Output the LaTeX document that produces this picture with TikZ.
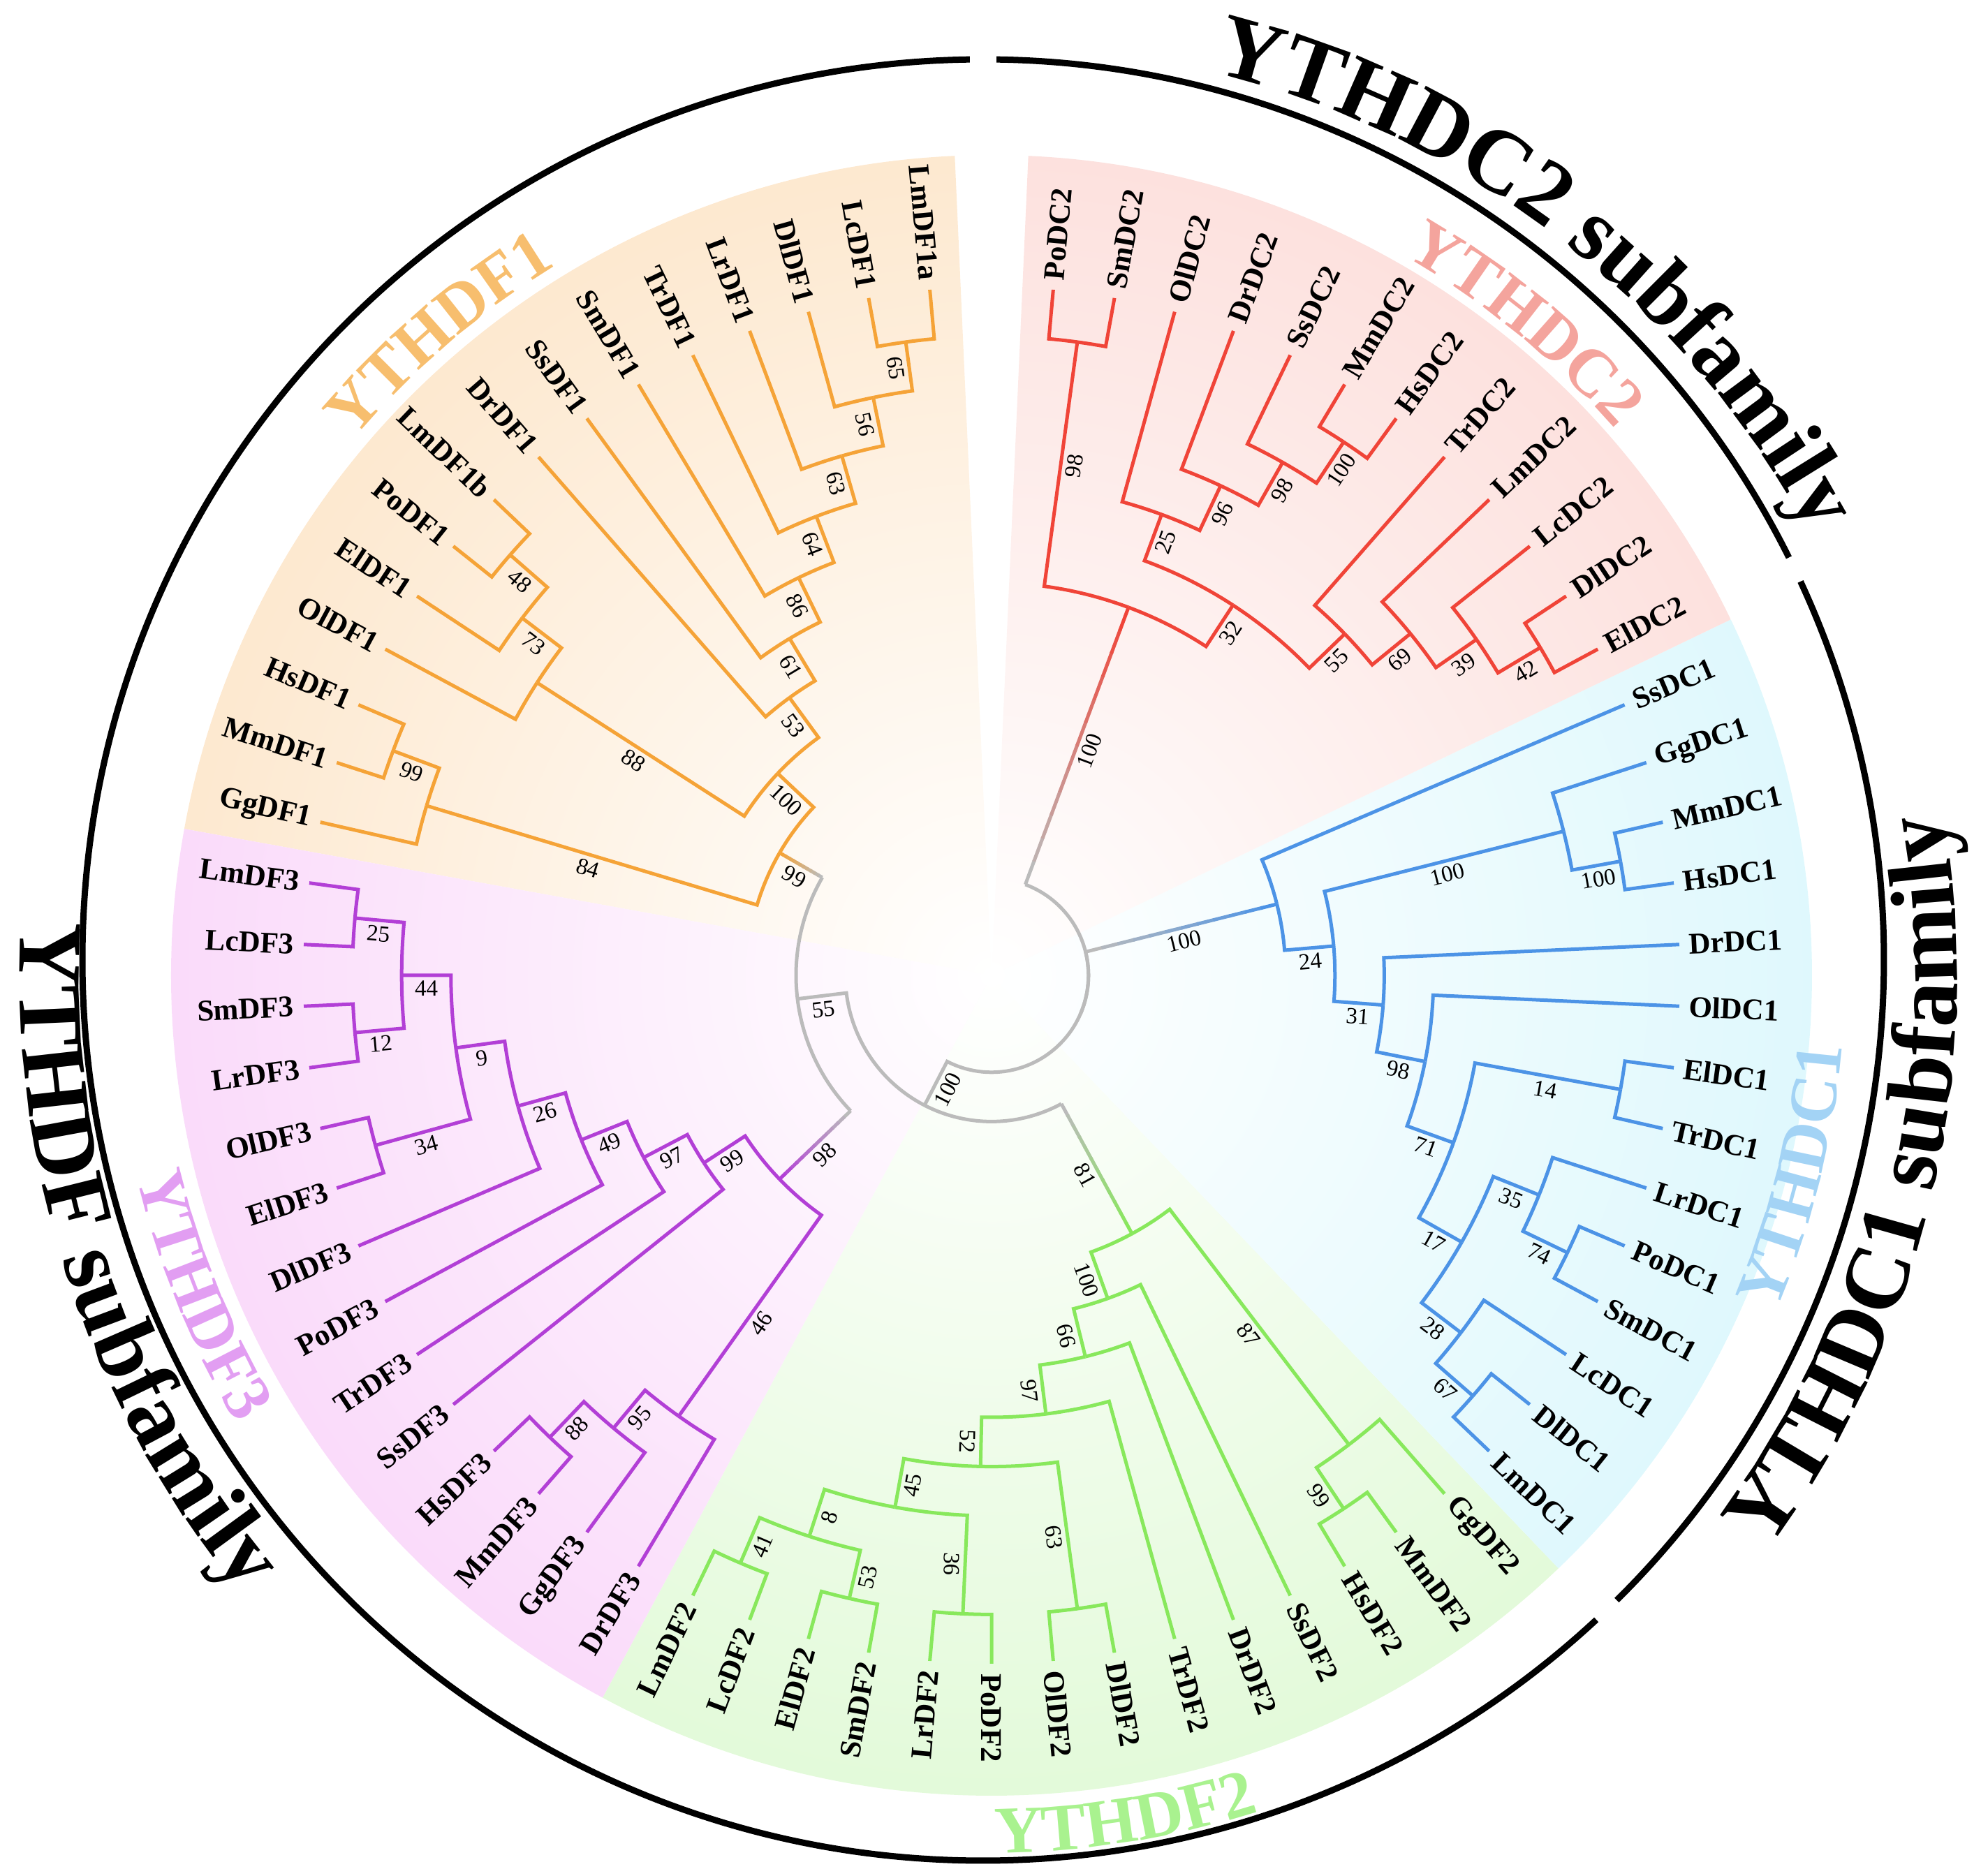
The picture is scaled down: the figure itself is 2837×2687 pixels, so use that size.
\documentclass[tikz,border=0pt]{standalone}
\usepackage{fontspec}
\setmainfont{Liberation Serif}
\usetikzlibrary{decorations.text}

\definecolor{df1col}{HTML}{F5A337}
\definecolor{df3col}{HTML}{B23FD6}
\definecolor{df2col}{HTML}{88E85C}
\definecolor{dc1col}{HTML}{4C93E6}
\definecolor{dc2col}{HTML}{F04438}
\definecolor{grayline}{HTML}{BBBBBB}
\definecolor{df1bg}{HTML}{FCDBB3}
\definecolor{df3bg}{HTML}{F7C5F7}
\definecolor{df2bg}{HTML}{D2F7C3}
\definecolor{dc1bg}{HTML}{CCF4FB}
\definecolor{dc2bg}{HTML}{FBCFCA}
\definecolor{df1lab}{HTML}{F7BE6E}
\definecolor{df3lab}{HTML}{E29EF2}
\definecolor{df2lab}{HTML}{A9F28F}
\definecolor{dc1lab}{HTML}{A3D3F5}
\definecolor{dc2lab}{HTML}{F4A49D}

\pgfdeclareradialshading{fadedf1}{\pgfpoint{0bp}{0bp}}{color(0bp)=(white); color(40bp)=(df1bg); color(50bp)=(df1bg)}
\pgfdeclareradialshading{fadedf3}{\pgfpoint{0bp}{0bp}}{color(0bp)=(white); color(40bp)=(df3bg); color(50bp)=(df3bg)}
\pgfdeclareradialshading{fadedf2}{\pgfpoint{0bp}{0bp}}{color(0bp)=(white); color(40bp)=(df2bg); color(50bp)=(df2bg)}
\pgfdeclareradialshading{fadedc1}{\pgfpoint{0bp}{0bp}}{color(0bp)=(white); color(40bp)=(dc1bg); color(50bp)=(dc1bg)}
\pgfdeclareradialshading{fadedc2}{\pgfpoint{0bp}{0bp}}{color(0bp)=(white); color(40bp)=(dc2bg); color(50bp)=(dc2bg)}

\newcommand\leaffont{\fontsize{43}{43}\selectfont\bfseries}
\newcommand\bootfont{\fontsize{33}{33}\selectfont}
\newcommand\cladefont{\fontsize{96}{96}\selectfont\bfseries}
\newcommand\subfamfont{\fontsize{130}{130}\selectfont\bfseries}

\makeatletter
% node at angle #2 and height #3 (leaves have height 0)
\newcommand\nodeat[3]{%
  \pgfmathsetmacro\yt@r{986-70.6*#3}%
  \expandafter\xdef\csname na@#1\endcsname{#2}%
  \expandafter\xdef\csname nr@#1\endcsname{\yt@r}%
  \expandafter\xdef\csname nh@#1\endcsname{#3}%
  \coordinate (#1) at (#2:\yt@r);}
% radial line from child, then arc to the parent
\newcommand\branch[3]{%
  \edef\yt@a{\csname na@#2\endcsname}%
  \edef\yt@p{\csname nr@#3\endcsname}%
  \pgfmathsetmacro\yt@b{\yt@a+mod(\csname na@#3\endcsname-\yt@a+540,360)-180}%
  \draw[#1] (#2) -- (\yt@a:\yt@p) arc[start angle=\yt@a,end angle=\yt@b,radius=\yt@p];%
  \expandafter\xdef\csname np@#2\endcsname{#3}}
\newcommand\knot[3]{%
  \pgfmathsetmacro\yt@m{(\csname na@#2\endcsname+\csname na@#3\endcsname)/2}%
  \pgfmathtruncatemacro\yt@h{max(\csname nh@#2\endcsname,\csname nh@#3\endcsname)+1}%
  \nodeat{#1}{\yt@m}{\yt@h}}
\newcommand\fork[4]{\knot{#2}{#3}{#4}\branch{#1}{#3}{#2}\branch{#1}{#4}{#2}}
% grey to clade colour
\newcommand\fadebranch[3]{%
  \edef\yt@a{\csname na@#2\endcsname}%
  \edef\yt@c{\csname nr@#2\endcsname}%
  \edef\yt@p{\csname nr@#3\endcsname}%
  \foreach \k in {0,...,11}{%
    \pgfmathsetmacro\yt@x{\yt@p+(\yt@c-\yt@p)*\k/12}%
    \pgfmathsetmacro\yt@y{\yt@p+(\yt@c-\yt@p)*(\k+1)/12+(\k<11)*2}%
    \pgfmathtruncatemacro\yt@t{100*\k/11}%
    \draw[twig,draw=#1!\yt@t!grayline] (\yt@a:\yt@x) -- (\yt@a:\yt@y);}%
  \pgfmathsetmacro\yt@b{\yt@a+mod(\csname na@#3\endcsname-\yt@a+540,360)-180}%
  \draw[trunk] (\yt@a:\yt@p) arc[start angle=\yt@a,end angle=\yt@b,radius=\yt@p];%
  \expandafter\xdef\csname np@#2\endcsname{#3}}
\newcommand\leaf[2]{%
  \pgfmathsetmacro\lf@a{95.142857+5.142857*#2-360*(#2>42)}%
  \pgfmathtruncatemacro\lf@s{(mod(\lf@a+720,360)>=265 || mod(\lf@a+720,360)<=90) ? 1 : 0}%
  \nodeat{#1}{\lf@a}{0}%
  \ifnum\lf@s=1
    \node[leaflab,anchor=west,rotate=\lf@a] (#1-l) at (\lf@a:1000) {#1};%
  \else
    \node[leaflab,anchor=east,rotate=\lf@a+180] (#1-l) at (\lf@a:1000) {#1};%
  \fi}
\newcommand\boot[2]{%
  \edef\bt@n{#1}%
  \edef\bt@a{\csname na@\bt@n\endcsname}%
  \edef\bt@p{\csname np@\bt@n\endcsname}%
  \pgfmathsetmacro\bt@r{(\csname nr@\bt@n\endcsname+\csname nr@\bt@p\endcsname)/2}%
  \pgfmathtruncatemacro\bt@s{(mod(\bt@a+720,360)>=265 || mod(\bt@a+720,360)<=90) ? 1 : 0}%
  \ifnum\bt@s=1 \edef\bt@rot{\bt@a}\else \pgfmathsetmacro\bt@rot{\bt@a+180}\fi
  \node[bootlab,rotate=\bt@rot,anchor=north] (#1-b) at (\bt@a:\bt@r) {#2};}
\makeatother

\begin{document}
\begin{tikzpicture}[x=1pt,y=1pt,
  twig/.style={line width=5pt},
  df1/.style={twig,draw=df1col},
  df3/.style={twig,draw=df3col},
  df2/.style={twig,draw=df2col},
  dc1/.style={twig,draw=dc1col},
  dc2/.style={twig,draw=dc2col},
  trunk/.style={twig,draw=grayline},
  leaflab/.style={font=\leaffont,inner sep=0pt},
  bootlab/.style={font=\bootfont,inner sep=8pt},
  ring/.style={line width=9pt,draw=black}]
\useasboundingbox (-1420,-1290) rectangle (1417,1397);

% clade wedges
\begin{scope}
\clip (0,0) -- (92.57:1175) arc[start angle=92.57,end angle=169.71,radius=1175] -- cycle;
\shade[shading=fadedf1] (0,0) circle (1175);
\end{scope}
\begin{scope}
\clip (0,0) -- (169.71:1175) arc[start angle=169.71,end angle=241.71,radius=1175] -- cycle;
\shade[shading=fadedf3] (0,0) circle (1175);
\end{scope}
\begin{scope}
\clip (0,0) -- (241.71:1175) arc[start angle=241.71,end angle=313.71,radius=1175] -- cycle;
\shade[shading=fadedf2] (0,0) circle (1175);
\end{scope}
\begin{scope}
\clip (0,0) -- (-46.29:1175) arc[start angle=-46.29,end angle=25.71,radius=1175] -- cycle;
\shade[shading=fadedc1] (0,0) circle (1175);
\end{scope}
\begin{scope}
\clip (0,0) -- (25.71:1175) arc[start angle=25.71,end angle=87.43,radius=1175] -- cycle;
\shade[shading=fadedc2] (0,0) circle (1175);
\end{scope}

% outer ring and titles
\coordinate (ring) at (-12,22);
\draw[ring] (ring) ++(90.85:1290) arc[start angle=90.85,end angle=312.9,radius=1290];
\draw[ring] (ring) ++(-45.3:1290) arc[start angle=-45.3,end angle=24.85,radius=1290];
\draw[ring] (ring) ++(26.55:1290) arc[start angle=26.55,end angle=89.15,radius=1290];
\path[decorate,decoration={text along path,text align=center,text color=black,
  text={|\subfamfont|YTHDC2 subfamily}}] (87.3:1332) arc[start angle=87.3,end angle=17.3,radius=1332];
\path[decorate,decoration={text along path,text align=center,text color=black,
  text={|\subfamfont|YTHDC1 subfamily}}] (-48.4:1383) arc[start angle=-48.4,end angle=21.6,radius=1383];
\path[decorate,decoration={text along path,text align=center,text color=black,
  text={|\subfamfont|YTHDF subfamily}}] (163.2:1392) arc[start angle=163.2,end angle=233.2,radius=1392];

% clade names
\path[decorate,decoration={text along path,text align=center,text color=df1lab,
  text={|\cladefont|YTHDF1}}] (150.7:1193) arc[start angle=150.7,end angle=110.7,radius=1193];
\path[decorate,decoration={text along path,text align=center,text color=dc2lab,
  text={|\cladefont|YTHDC2}}] (70.7:1188) arc[start angle=70.7,end angle=30.7,radius=1188];
\path[decorate,decoration={text along path,text align=center,text color=dc1lab,
  text={|\cladefont|YTHDC1}}] (-34:1222) arc[start angle=-34,end angle=6,radius=1222];
\path[decorate,decoration={text along path,text align=center,text color=df2lab,
  text={|\cladefont|YTHDF2}}] (-101:1257) arc[start angle=-101,end angle=-61,radius=1257];
\path[decorate,decoration={text along path,text align=center,text color=df3lab,
  text={|\cladefont|YTHDF3}}] (182:1257) arc[start angle=182,end angle=222,radius=1257];

% leaves
\foreach \nm [count=\k from 0] in {LmDF1a,LcDF1,DlDF1,LrDF1,TrDF1,SmDF1,SsDF1,DrDF1,
  LmDF1b,PoDF1,ElDF1,OlDF1,HsDF1,MmDF1,GgDF1,
  LmDF3,LcDF3,SmDF3,LrDF3,OlDF3,ElDF3,DlDF3,PoDF3,TrDF3,SsDF3,HsDF3,MmDF3,GgDF3,DrDF3,
  LmDF2,LcDF2,ElDF2,SmDF2,LrDF2,PoDF2,OlDF2,DlDF2,TrDF2,DrDF2,SsDF2,HsDF2,MmDF2,GgDF2,
  LmDC1,DlDC1,LcDC1,SmDC1,PoDC1,LrDC1,TrDC1,ElDC1,OlDC1,DrDC1,HsDC1,MmDC1,GgDC1,SsDC1,
  ElDC2,DlDC2,LcDC2,LmDC2,TrDC2,HsDC2,MmDC2,SsDC2,DrDC2,OlDC2,SmDC2,PoDC2}
  {\leaf{\nm}{\k}}

% YTHDF1
\fork{df1}{df1-65}{LmDF1a}{LcDF1}
\fork{df1}{df1-56}{df1-65}{DlDF1}
\fork{df1}{df1-63}{df1-56}{LrDF1}
\fork{df1}{df1-64}{df1-63}{TrDF1}
\fork{df1}{df1-86}{df1-64}{SmDF1}
\fork{df1}{df1-61}{df1-86}{SsDF1}
\fork{df1}{df1-53}{df1-61}{DrDF1}
\fork{df1}{df1-48}{LmDF1b}{PoDF1}
\fork{df1}{df1-73}{df1-48}{ElDF1}
\fork{df1}{df1-88}{df1-73}{OlDF1}
\fork{df1}{df1-100}{df1-53}{df1-88}
\fork{df1}{df1-99}{HsDF1}{MmDF1}
\fork{df1}{df1-84}{df1-99}{GgDF1}
\fork{df1}{df1-root}{df1-100}{df1-84}

% YTHDF3
\fork{df3}{df3-25}{LmDF3}{LcDF3}
\fork{df3}{df3-12}{SmDF3}{LrDF3}
\fork{df3}{df3-44}{df3-25}{df3-12}
\fork{df3}{df3-34}{OlDF3}{ElDF3}
\fork{df3}{df3-9}{df3-44}{df3-34}
\fork{df3}{df3-26}{df3-9}{DlDF3}
\fork{df3}{df3-49}{df3-26}{PoDF3}
\fork{df3}{df3-97}{df3-49}{TrDF3}
\fork{df3}{df3-99}{df3-97}{SsDF3}
\fork{df3}{df3-88}{HsDF3}{MmDF3}
\fork{df3}{df3-95}{df3-88}{GgDF3}
\fork{df3}{df3-46}{df3-95}{DrDF3}
\fork{df3}{df3-root}{df3-99}{df3-46}

% YTHDF2
\fork{df2}{df2-41}{LmDF2}{LcDF2}
\fork{df2}{df2-53}{ElDF2}{SmDF2}
\fork{df2}{df2-8}{df2-41}{df2-53}
\fork{df2}{df2-36}{LrDF2}{PoDF2}
\fork{df2}{df2-45}{df2-8}{df2-36}
\fork{df2}{df2-63}{OlDF2}{DlDF2}
\fork{df2}{df2-52}{df2-45}{df2-63}
\fork{df2}{df2-97}{df2-52}{TrDF2}
\fork{df2}{df2-66}{df2-97}{DrDF2}
\fork{df2}{df2-100}{df2-66}{SsDF2}
\fork{df2}{df2-99}{HsDF2}{MmDF2}
\fork{df2}{df2-87}{df2-99}{GgDF2}
\fork{df2}{df2-root}{df2-100}{df2-87}

% YTHDC1
\fork{dc1}{dc1-100b}{MmDC1}{HsDC1}
\fork{dc1}{dc1-100a}{GgDC1}{dc1-100b}
\fork{dc1}{dc1-14}{ElDC1}{TrDC1}
\fork{dc1}{dc1-74}{PoDC1}{SmDC1}
\fork{dc1}{dc1-35}{LrDC1}{dc1-74}
\fork{dc1}{dc1-67}{DlDC1}{LmDC1}
\fork{dc1}{dc1-28}{LcDC1}{dc1-67}
\fork{dc1}{dc1-17}{dc1-35}{dc1-28}
\fork{dc1}{dc1-71}{dc1-14}{dc1-17}
\fork{dc1}{dc1-98}{OlDC1}{dc1-71}
\fork{dc1}{dc1-31}{DrDC1}{dc1-98}
\fork{dc1}{dc1-24}{dc1-100a}{dc1-31}
\fork{dc1}{dc1-root}{SsDC1}{dc1-24}

% YTHDC2
\fork{dc2}{dc2-98a}{PoDC2}{SmDC2}
\fork{dc2}{dc2-100}{MmDC2}{HsDC2}
\fork{dc2}{dc2-98b}{SsDC2}{dc2-100}
\fork{dc2}{dc2-96}{DrDC2}{dc2-98b}
\fork{dc2}{dc2-25}{OlDC2}{dc2-96}
\fork{dc2}{dc2-42}{DlDC2}{ElDC2}
\fork{dc2}{dc2-39}{LcDC2}{dc2-42}
\fork{dc2}{dc2-69}{LmDC2}{dc2-39}
\fork{dc2}{dc2-55}{TrDC2}{dc2-69}
\fork{dc2}{dc2-32}{dc2-25}{dc2-55}
\fork{dc2}{dc2-root}{dc2-98a}{dc2-32}

% centre
\knot{df13}{df1-root}{df3-root}
\fadebranch{df1col}{df1-root}{df13}
\fadebranch{df3col}{df3-root}{df13}
\knot{dfall}{df13}{df2-root}
\branch{trunk}{df13}{dfall}
\fadebranch{df2col}{df2-root}{dfall}
\nodeat{root}{-23.8}{12}
\branch{trunk}{dfall}{root}
\fadebranch{dc1col}{dc1-root}{root}
\fadebranch{dc2col}{dc2-root}{root}

% bootstrap values
\foreach \nd/\bv in {df1-65/65,df1-56/56,df1-63/63,df1-64/64,df1-86/86,df1-61/61,df1-53/53,
  df1-48/48,df1-73/73,df1-88/88,df1-100/100,df1-99/99,df1-84/84,df1-root/99,
  df3-25/25,df3-12/12,df3-44/44,df3-34/34,df3-9/9,df3-26/26,df3-49/49,df3-97/97,df3-99/99,
  df3-88/88,df3-95/95,df3-46/46,df3-root/98,
  df2-41/41,df2-53/53,df2-8/8,df2-36/36,df2-45/45,df2-63/63,df2-52/52,df2-97/97,df2-66/66,
  df2-100/100,df2-99/99,df2-87/87,df2-root/81,
  dc1-100b/100,dc1-100a/100,dc1-14/14,dc1-74/74,dc1-35/35,dc1-67/67,dc1-28/28,dc1-17/17,
  dc1-71/71,dc1-98/98,dc1-31/31,dc1-24/24,dc1-root/100,
  dc2-98a/98,dc2-100/100,dc2-98b/98,dc2-96/96,dc2-25/25,dc2-42/42,dc2-39/39,dc2-69/69,
  dc2-55/55,dc2-32/32,dc2-root/100,df13/55,dfall/100}
  {\boot{\nd}{\bv}}
\end{tikzpicture}
\end{document}
